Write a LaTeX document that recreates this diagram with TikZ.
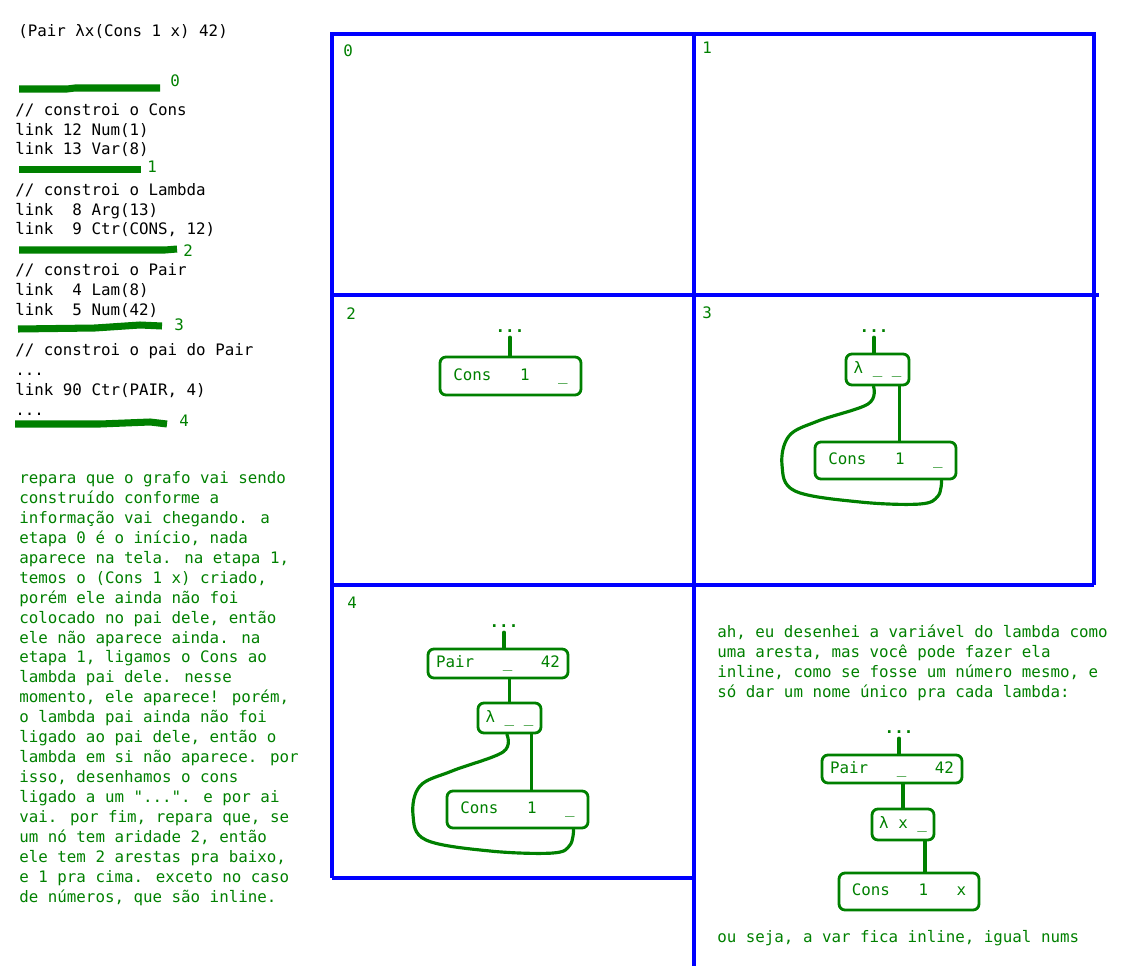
\documentclass[tikz,border=0pt]{standalone}
\usepackage{fontspec}
\newfontfamily\codefont{DejaVu Sans Mono}
\usetikzlibrary{calc}
\definecolor{inkgreen}{RGB}{0,128,0}
\definecolor{penblue}{RGB}{0,0,255}
\tikzset{
  txt/.style={anchor=base west, inner sep=0pt, align=left,
    font=\codefont\fontsize{9}{11.34}\selectfont},
  note/.style={txt, text=inkgreen},
  term/.style={draw=inkgreen, text=inkgreen, line width=1.6pt, rounded corners=3.4pt,
    inner sep=0pt, text height=7pt, text depth=2pt,
    font=\codefont\fontsize{9}{11.34}\selectfont},
  ellipsis/.style={text=inkgreen, inner sep=2.5pt,
    font=\codefont\bfseries\fontsize{9}{11.34}\selectfont},
  wire/.style={draw=inkgreen, line width=1.8pt, line cap=round},
  panelline/.style={draw=penblue, line width=2pt},
  stagebar/.style={draw=inkgreen, line width=4pt}
}
\begin{document}
\begin{tikzpicture}[x=0.02cm, y=-0.02cm]
  \useasboundingbox (0,0) rectangle (1128,966);

  \node[txt] (expr) at (18,37) {(Pair λx(Cons 1 x) 42)};

  \draw[stagebar] (19,89) -- (67,89) -- (75,88) -- (160,88);
  \node[note] (mark0) at (170,87) {0};
  \node[txt] (codeA) at (15,155) {// constroi o Cons\\link 12 Num(1)\\link 13 Var(8)};
  \draw[stagebar] (19,169.5) -- (141,169.5);
  \node[note] (mark1) at (147,173) {1};
  \node[txt] (codeB) at (15,235) {// constroi o Lambda\\link~~8 Arg(13)\\link~~9 Ctr(CONS, 12)};
  \draw[stagebar] (19,250) -- (165,250) -- (177,249);
  \node[note] (mark2) at (183,256) {2};
  \node[txt] (codeC) at (15,315) {// constroi o Pair\\link~~4 Lam(8)\\link~~5 Num(42)};
  \draw[stagebar] (18,329) -- (95,328) -- (140,325) -- (162,326);
  \node[note] (mark3) at (174,330) {3};
  \node[txt] (codeD) at (15,415) {// constroi o pai do Pair\\...\\link 90 Ctr(PAIR, 4)\\...};
  \draw[stagebar] (15,424) -- (100,424) -- (150,422) -- (167,424);
  \node[note] (mark4) at (179,426) {4};

  \node[note] (story) at (19,902) {repara que o grafo vai sendo\\construído conforme a\\informação vai chegando. a\\etapa 0 é o início, nada\\aparece na tela. na etapa 1,\\temos o (Cons 1 x) criado,\\porém ele ainda não foi\\colocado no pai dele, então\\ele não aparece ainda. na\\etapa 1, ligamos o Cons ao\\lambda pai dele. nesse\\momento, ele aparece! porém,\\o lambda pai ainda não foi\\ligado ao pai dele, então o\\lambda em si não aparece. por\\isso, desenhamos o cons\\ligado a um "...". e por ai\\vai. por fim, repara que, se\\um nó tem aridade 2, então\\ele tem 2 arestas pra baixo,\\e 1 pra cima. exceto no caso\\de números, que são inline.};

  \draw[panelline] (332,878) -- (332,34) -- (1094,34) -- (1094,585);
  \draw[panelline] (694,32) -- (694,966);
  \draw[panelline] (330,295) -- (1099,295);
  \draw[panelline] (332,585) -- (1094,585);
  \draw[panelline] (332,878) -- (695,878);

  \node[note] (lbl0) at (343,57) {0};
  \node[note] (lbl1) at (702,54) {1};
  \node[note] (lbl2) at (346,319) {2};
  \node[note] (lbl3) at (702,318) {3};
  \node[note] (lbl4) at (347,608) {4};

  \node[ellipsis] (up2) at (510,331) {...};
  \node[term, minimum width=2.82cm, minimum height=0.76cm] (cons2) at (510.5,376) {Cons~~~1~~~\_};
  \draw[wire] (up2.south) -- (up2.south |- cons2.north);

  \node[ellipsis] (up3) at (874,331) {...};
  \node[term, minimum width=1.26cm, minimum height=0.62cm] (lam3) at (877.5,369.5) {λ~\_~\_};
  \node[term, minimum width=2.82cm, minimum height=0.74cm] (cons3) at (885.5,460.5) {Cons~~~1~~~\_};
  \coordinate (lam3var) at ($(lam3.south west)!.44!(lam3.south east)$);
  \coordinate (lam3bod) at ($(lam3.south west)!.83!(lam3.south east)$);
  \coordinate (cons3tl) at ($(cons3.south west)!.89!(cons3.south east)$);
  \draw[wire] (up3.south) -- (up3.south |- lam3.north);
  \draw[wire] (lam3bod) -- (lam3bod |- cons3.north);
  \draw[wire] plot[smooth, tension=.6] coordinates {(lam3var) (868,404) (818,421) (789,436) (782,465) (795,491) (860,502) (920,504) (938,496) (cons3tl)};

  \node[ellipsis] (up4) at (504,626) {...};
  \node[term, minimum width=2.8cm, minimum height=0.58cm] (pair4) at (498,663.5) {Pair~~~\_~~~42};
  \node[term, minimum width=1.26cm, minimum height=0.6cm] (lam4) at (509.5,718) {λ~\_~\_};
  \node[term, minimum width=2.82cm, minimum height=0.74cm] (cons4) at (517.5,809.5) {Cons~~~1~~~\_};
  \coordinate (lam4var) at ($(lam4.south west)!.46!(lam4.south east)$);
  \coordinate (lam4bod) at ($(lam4.south west)!.83!(lam4.south east)$);
  \coordinate (cons4tl) at ($(cons4.south west)!.89!(cons4.south east)$);
  \draw[wire] (up4.south) -- (up4.south |- pair4.north);
  \draw[wire] (lam4.north |- pair4.south) -- (lam4.north);
  \draw[wire] (lam4bod) -- (lam4bod |- cons4.north);
  \draw[wire] plot[smooth, tension=.6] coordinates {(lam4var) (503,752) (452,771) (420,786) (413,815) (426,840) (490,851) (553,853) (570,845) (cons4tl)};

  \node[note] (aside) at (717,697) {ah, eu desenhei a variável do lambda como\\uma aresta, mas você pode fazer ela\\inline, como se fosse um número mesmo, e\\só dar um nome único pra cada lambda:};

  \node[ellipsis] (up5) at (899,732) {...};
  \node[term, minimum width=2.8cm, minimum height=0.56cm] (pair5) at (892,769) {Pair~~~\_~~~42};
  \node[term, minimum width=1.24cm, minimum height=0.62cm] (lam5) at (903,824.5) {λ~x~\_};
  \node[term, minimum width=2.8cm, minimum height=0.74cm] (cons5) at (909,891.5) {Cons~~~1~~~x};
  \coordinate (lam5bod) at ($(lam5.south west)!.84!(lam5.south east)$);
  \draw[wire] (up5.south) -- (up5.south |- pair5.north);
  \draw[wire] (lam5.north |- pair5.south) -- (lam5.north);
  \draw[wire] (lam5bod) -- (lam5bod |- cons5.north);

  \node[note] (verdict) at (717,942) {ou seja, a var fica inline, igual nums};

\end{tikzpicture}
\end{document}
